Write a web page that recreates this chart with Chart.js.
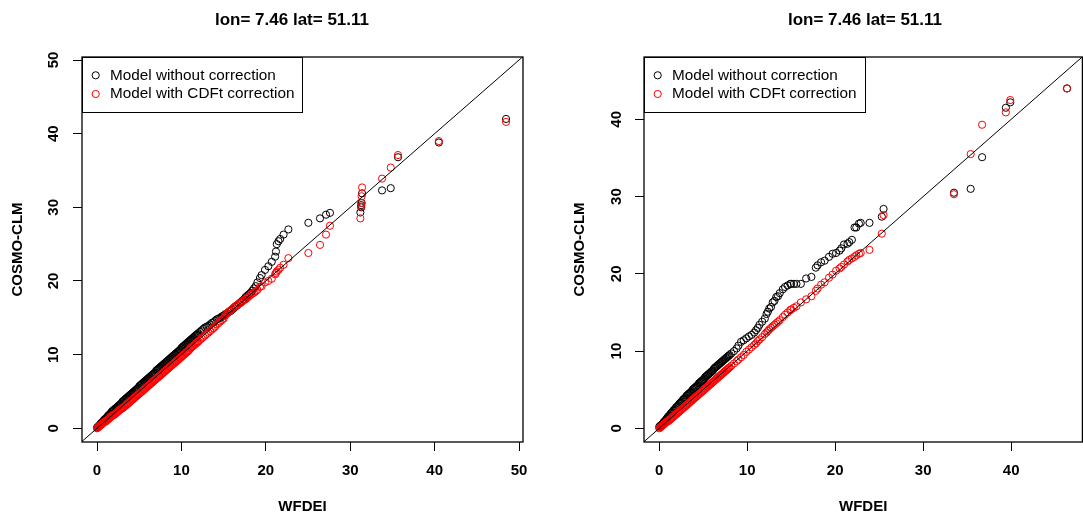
<!DOCTYPE html>
<html>
<head>
<meta charset="utf-8">
<script src="https://cdn.jsdelivr.net/npm/chart.js@4.4.1/dist/chart.umd.min.js"></script>
<style>
html,body{margin:0;padding:0;background:#fff;overflow:hidden;width:1083px;height:518px;}
#c1{position:absolute;left:0;top:0;}
#c2{position:absolute;left:541px;top:0;}
</style>
</head>
<body>
<canvas id="c1" width="541" height="518"></canvas>
<canvas id="c2" width="546" height="518"></canvas>
<script>
// ---------- text ----------
const TITLE = 'lon= 7.46 lat= 51.11';
const X_LABEL = 'WFDEI';
const Y_LABEL = 'COSMO-CLM';
const SERIES_NAMES = ['Model without correction', 'Model with CDFt correction'];

// ---------- left panel (WFDEI quantiles shared by both series) ----------
const leftX = [
0,0.1,0.2,0.3,0.4,0.5,0.6,0.7,0.8,0.9,
1,1.1,1.2,1.3,1.4,1.5,1.6,1.7,1.8,1.9,
2,2.1,2.2,2.3,2.4,2.5,2.6,2.7,2.8,2.9,
3,3.1,3.2,3.3,3.4,3.5,3.6,3.7,3.8,3.9,
4,4.1,4.2,4.3,4.4,4.5,4.6,4.7,4.8,4.9,
5,5.1,5.2,5.3,5.4,5.5,5.6,5.7,5.8,5.9,
6,6.1,6.2,6.3,6.4,6.5,6.6,6.7,6.8,6.9,
7,7.1,7.2,7.3,7.4,7.5,7.6,7.7,7.8,7.9,
8,8.1,8.2,8.3,8.4,8.5,8.6,8.7,8.8,8.9,
9,9.1,9.2,9.3,9.4,9.5,9.6,9.7,9.8,9.9,
10,10.1,10.2,10.3,10.4,10.5,10.6,10.7,10.8,10.9,
11,11.1,11.2,11.3,11.4,11.5,11.6,11.7,11.8,11.9,
12,
12.2,12.4,12.6,12.8,13,13.2,13.4,13.6,13.8,14,
14.2,14.4,14.6,14.8,15,15.2,15.4,15.6,15.8,16,
16.2,16.4,16.6,16.8,17,17.2,17.4,17.6,17.8,18,
18.2,18.4,18.6,18.8,19,
19.3,19.5,19.9,20.3,20.7,21.1,21.2,21.3,21.5,21.7,
22.1,22.67,25.04,26.42,27.13,27.6,31.2,31.3,31.3,31.35,
31.4,33.77,34.8,35.66,40.5,48.46
];
const leftRaw = [
0.1,0.2,0.3,0.4,0.6,0.7,0.8,0.9,1.1,1.2,
1.3,1.4,1.5,1.7,1.8,1.9,2.0,2.2,2.3,2.4,
2.5,2.6,2.7,2.8,2.9,3.0,3.1,3.2,3.3,3.4,
3.6,3.7,3.8,3.9,4.0,4.1,4.2,4.3,4.4,4.5,
4.6,4.7,4.8,4.9,5.0,5.1,5.2,5.3,5.4,5.5,
5.7,5.8,5.9,6.0,6.1,6.2,6.3,6.4,6.5,6.6,
6.7,6.8,6.9,7.0,7.1,7.2,7.3,7.4,7.5,7.6,
7.8,7.9,8.0,8.1,8.2,8.3,8.4,8.5,8.6,8.7,
8.8,8.9,9.0,9.1,9.2,9.3,9.4,9.5,9.6,9.7,
9.8,9.9,10.0,10.1,10.2,10.3,10.4,10.5,10.6,10.7,
10.9,11.0,11.1,11.2,11.3,11.4,11.5,11.6,11.7,11.8,
11.9,12.0,12.1,12.2,12.3,12.4,12.5,12.6,12.7,12.8,
12.9,
13.1,13.3,13.5,13.7,13.8,13.9,14.1,14.3,14.4,14.6,
14.8,14.9,15.0,15.2,15.3,15.5,15.6,15.8,15.9,16.1,
16.3,16.5,16.7,16.9,17.1,17.3,17.5,17.8,18.0,18.2,
18.4,18.7,19.0,19.3,19.8,
20.4,20.8,21.5,22.0,22.6,23.3,24.0,25.0,25.4,25.7,
26.3,27.0,27.9,28.5,29.0,29.25,29.3,30.0,30.3,30.6,
31.9,32.3,32.6,36.8,38.8,42.0
];
const leftCdft = [
0.0,0.1,0.2,0.3,0.4,0.5,0.6,0.7,0.8,0.9,
0.9,1.0,1.1,1.2,1.3,1.4,1.5,1.6,1.7,1.8,
1.8,1.9,2.0,2.1,2.2,2.3,2.4,2.5,2.6,2.7,
2.7,2.8,2.9,3.0,3.1,3.2,3.3,3.4,3.5,3.6,
3.7,3.8,3.9,4.0,4.1,4.2,4.3,4.4,4.5,4.6,
4.7,4.8,4.9,5.0,5.1,5.2,5.3,5.4,5.5,5.6,
5.7,5.8,5.9,6.0,6.1,6.2,6.3,6.4,6.5,6.6,
6.7,6.8,6.9,7.0,7.1,7.2,7.3,7.4,7.5,7.6,
7.7,7.8,7.9,8.0,8.1,8.2,8.3,8.4,8.5,8.6,
8.7,8.8,8.9,9.0,9.1,9.2,9.3,9.4,9.5,9.6,
9.7,9.8,9.9,10.0,10.1,10.2,10.3,10.4,10.5,10.6,
10.8,10.9,11.0,11.1,11.2,11.3,11.4,11.5,11.6,11.7,
11.8,
12.0,12.2,12.4,12.6,12.8,13.0,13.2,13.4,13.6,13.8,
14.1,14.3,14.5,14.7,14.9,15.3,15.6,15.8,16.0,16.2,
16.4,16.6,16.7,16.9,17.0,17.2,17.4,17.5,17.7,17.9,
18.1,18.3,18.4,18.6,18.8,
19.2,19.3,19.8,20.0,20.3,20.9,21.1,21.3,21.5,21.8,
22.2,23.1,23.8,24.9,26.3,27.5,28.5,30.1,30.6,31.5,
32.7,33.9,35.4,37.1,39.0,41.6
];

// ---------- right panel ----------
const rightX = [
0,0.1,0.2,0.3,0.4,0.5,0.6,0.7,0.8,0.9,
1,1.1,1.2,1.3,1.4,1.5,1.6,1.7,1.8,1.9,
2,2.1,2.2,2.3,2.4,2.5,2.6,2.7,2.8,2.9,
3,3.1,3.2,3.3,3.4,3.5,3.6,3.7,3.8,3.9,
4,4.1,4.2,4.3,4.4,4.5,4.6,4.7,4.8,4.9,
5,5.1,5.2,5.3,5.4,5.5,5.6,5.7,5.8,5.9,
6,6.1,6.2,6.3,6.4,6.5,6.6,6.7,6.8,6.9,
7,7.1,7.2,7.3,7.4,7.5,7.6,7.7,7.8,7.9,
8,
8.2,8.5,8.8,9.0,9.3,9.6,9.9,10.2,10.5,10.8,
11.0,11.2,11.4,11.7,12.0,12.2,12.35,12.5,12.7,12.9,
13.1,13.3,13.5,13.7,14.05,14.3,14.6,14.9,15.0,15.3,
15.6,16.1,16.7,17.3,17.8,18.0,18.4,18.8,19.3,19.7,
20.1,20.5,20.7,21.0,21.4,21.6,21.9,22.2,22.4,22.7,
22.9,23.9,25.3,25.5,33.5,35.4,36.7,39.4,39.9,46.35
];
const rightRaw = [
0.2,0.3,0.4,0.5,0.6,0.8,0.9,1.0,1.2,1.3,
1.5,1.6,1.7,1.9,2.0,2.1,2.3,2.4,2.5,2.7,
2.8,2.9,3.0,3.2,3.3,3.4,3.5,3.7,3.8,3.9,
4.0,4.2,4.3,4.4,4.5,4.6,4.7,4.8,5.0,5.1,
5.2,5.3,5.4,5.5,5.6,5.8,5.9,6.0,6.1,6.2,
6.3,6.4,6.6,6.7,6.8,6.9,7.0,7.1,7.2,7.3,
7.4,7.5,7.7,7.8,7.9,8.0,8.1,8.2,8.3,8.4,
8.5,8.6,8.7,8.8,8.9,9.0,9.1,9.2,9.3,9.4,
9.5,
9.7,10.0,10.35,10.7,11.2,11.4,11.65,11.9,12.1,12.4,
12.7,13.0,13.4,13.8,14.2,14.8,15.1,15.5,15.7,16.3,
16.5,17.0,17.1,17.5,18.0,18.3,18.5,18.7,18.7,18.7,
18.7,18.7,19.4,19.6,20.8,21.1,21.5,21.7,22.2,22.6,
22.7,23.0,23.3,23.8,23.9,24.1,24.4,26.0,26.0,26.5,
26.6,26.6,27.4,28.4,30.5,31.0,35.1,41.5,42.2,44.0
];
const rightCdft = [
0.0,0.1,0.2,0.3,0.4,0.5,0.6,0.7,0.8,0.9,
0.9,1.0,1.1,1.2,1.3,1.4,1.5,1.6,1.7,1.8,
1.9,2.0,2.1,2.2,2.3,2.4,2.5,2.6,2.7,2.8,
2.9,3.0,3.1,3.2,3.3,3.4,3.5,3.6,3.7,3.8,
3.9,4.0,4.1,4.2,4.3,4.4,4.5,4.6,4.7,4.8,
4.9,5.0,5.1,5.2,5.3,5.4,5.5,5.6,5.7,5.8,
5.9,6.0,6.1,6.2,6.3,6.4,6.5,6.6,6.7,6.8,
6.9,7.0,7.1,7.2,7.3,7.4,7.5,7.6,7.7,7.8,
7.9,
8.1,8.4,8.7,8.9,9.2,9.5,9.9,10.2,10.5,10.8,
11.0,11.3,11.5,11.8,12.2,12.4,12.6,12.8,13.0,13.2,
13.4,13.6,13.8,14.0,14.4,14.7,15.0,15.3,15.4,15.6,
15.8,16.3,16.7,17.1,17.8,18.1,18.6,18.9,19.5,19.9,
20.4,20.7,20.9,21.2,21.6,21.8,22.0,22.2,22.4,22.6,
22.7,23.1,25.2,27.6,30.3,35.5,39.3,40.9,42.5,44.0
];

// ---------- axes ----------
const leftTicks = [0, 10, 20, 30, 40, 50];
const rightTicks = [0, 10, 20, 30, 40];
const leftXRange = [-1.78, 50.47];
const leftYRange = [-1.86, 50.41];
const rightXRange = [-1.73, 48.1];
const rightYRange = [-1.77, 48.07];
const identityLine = [{x: -100, y: -100}, {x: 100, y: 100}];

Chart.defaults.font.family = '"Liberation Sans", Arial, Helvetica, sans-serif';
Chart.defaults.color = '#000';

const POINT_R = 3.6;

const framePlugin = {
  id: 'rframe',
  afterDatasetsDraw(chart, args, o) {
    const ctx = chart.ctx, a = chart.chartArea;
    ctx.save();
    ctx.strokeStyle = '#000';
    ctx.lineWidth = 1.3;
    ctx.strokeRect(a.left, a.top, a.right - a.left, a.bottom - a.top);
    // legend box
    ctx.fillStyle = '#fff';
    ctx.fillRect(a.left, a.top, o.legendWidth, o.legendHeight);
    ctx.lineWidth = 1;
    ctx.strokeRect(a.left + 0.5, a.top + 0.5, o.legendWidth, o.legendHeight);
    ctx.font = '15.3px "Liberation Sans", Arial, sans-serif';
    ctx.textBaseline = 'middle';
    ctx.textAlign = 'left';
    [0, 1].forEach(i => {
      const ds = chart.data.datasets[i];
      const cy = a.top + o.rowY[i];
      ctx.beginPath();
      ctx.arc(a.left + o.symX, cy, POINT_R, 0, Math.PI * 2);
      ctx.strokeStyle = ds.borderColor;
      ctx.lineWidth = 1;
      ctx.stroke();
      ctx.fillStyle = '#000';
      ctx.fillText(ds.label, a.left + o.textX, cy);
    });
    // main title
    ctx.font = 'bold 17px "Liberation Sans", Arial, sans-serif';
    ctx.textAlign = 'center';
    ctx.fillStyle = '#000';
    ctx.fillText(o.title, o.titleX, o.titleY);
    ctx.restore();
  }
};

function axis(range, ticks, label, isY, g) {
  const cfg = {
    type: 'linear',
    min: range[0],
    max: range[1],
    afterBuildTicks: s => { s.ticks = ticks.map(v => ({value: v})); },
    grid: {drawOnChartArea: false, drawTicks: true, tickLength: 9, tickColor: '#000', tickWidth: 1},
    border: {display: false},
    ticks: {color: '#000', font: {size: 15, weight: 'bold'}, autoSkip: false},
    title: {display: true, text: label, color: '#000', font: {size: 15, weight: 'bold'}}
  };
  if (isY) {
    cfg.afterFit = s => { s.width = g.yAxisWidth; };
    cfg.ticks.minRotation = 90;
    cfg.ticks.maxRotation = 90;
    cfg.ticks.crossAlign = 'center';
    cfg.ticks.padding = g.yTickPad;
    cfg.title.padding = {top: g.yTitlePad, bottom: 0};
  } else {
    cfg.afterFit = s => { s.height = 76; };
    cfg.ticks.maxRotation = 0;
    cfg.ticks.padding = g.xTickPad;
    cfg.title.padding = {top: 0, bottom: 2};
  }
  return cfg;
}

function makeChart(id, xs, raw, cdft, xr, yr, ticks, g) {
  return new Chart(document.getElementById(id), {
    type: 'scatter',
    data: {
      datasets: [
        {label: SERIES_NAMES[0], data: xs.map((x, i) => ({x: x, y: raw[i]})),
         borderColor: '#000000', backgroundColor: 'rgba(0,0,0,0)',
         pointRadius: POINT_R, pointBorderWidth: 1, pointHoverRadius: POINT_R, order: 2},
        {label: SERIES_NAMES[1], data: xs.map((x, i) => ({x: x, y: cdft[i]})),
         borderColor: '#ff0000', backgroundColor: 'rgba(0,0,0,0)',
         pointRadius: POINT_R, pointBorderWidth: 1, pointHoverRadius: POINT_R, order: 1},
        {label: '1:1', data: identityLine, showLine: true, pointRadius: 0,
         borderColor: '#000000', borderWidth: 1, order: 0}
      ]
    },
    options: {
      responsive: false,
      animation: false,
      devicePixelRatio: 1,
      events: [],
      layout: {padding: {top: 57, right: g.rightPad, left: 0, bottom: 0}},
      scales: {
        x: axis(xr, ticks, X_LABEL, false, g),
        y: axis(yr, ticks, Y_LABEL, true, g)
      },
      plugins: {
        legend: {display: false},
        tooltip: {enabled: false},
        title: {display: false},
        rframe: {
          legendWidth: g.legendWidth, legendHeight: 55,
          rowY: [18.3, 37], symX: 13.7, textX: 28,
          title: TITLE, titleX: g.titleX, titleY: 20
        }
      }
    },
    plugins: [framePlugin]
  });
}

makeChart('c1', leftX, leftRaw, leftCdft, leftXRange, leftYRange, leftTicks,
  {yAxisWidth: 82, rightPad: 18, yTickPad: 11, xTickPad: 11, yTitlePad: 9, legendWidth: 220, titleX: 292});
makeChart('c2', rightX, rightRaw, rightCdft, rightXRange, rightYRange, rightTicks,
  {yAxisWidth: 103, rightPad: 0, yTickPad: 10, xTickPad: 11, yTitlePad: 30, legendWidth: 221, titleX: 324});
</script>
</body>
</html>
